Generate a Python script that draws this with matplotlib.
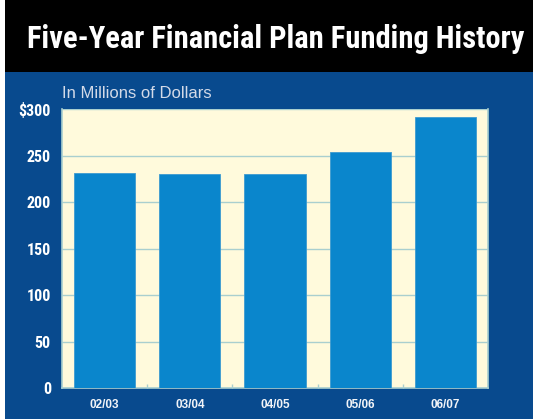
import matplotlib
matplotlib.use("Agg")
import matplotlib.pyplot as plt
from matplotlib import font_manager

# Funding per fiscal year, millions of dollars
years = ["02/03", "03/04", "04/05", "05/06", "06/07"]
funding = [231, 230, 230, 254, 291]
ytick_values = [0, 50, 100, 150, 200, 250, 300]
ytick_labels = ["0", "50", "100", "150", "200", "250", "$300"]

BG_BLUE = "#084A8E"
BAR_BLUE = "#0A86CC"
CREAM = "#FFFADC"
GRID = "#A9CFCF"

# Prefer a narrow bold face for the headline when one is installed
names = {f.name for f in font_manager.fontManager.ttflist}
narrow = [n for n in ("Liberation Sans Narrow", "DejaVu Sans Condensed", "Roboto Condensed") if n in names]
title_family = narrow + ["Roboto", "DejaVu Sans"]

W, H = 533, 419
fig = plt.figure(figsize=(W / 100, H / 100), dpi=100)
fig.patch.set_facecolor("white")

# Background panel: blue field with a black title band
bg = fig.add_axes([5 / W, 0, 1 - 5 / W, 1], zorder=0)
bg.set_xlim(0, 1)
bg.set_ylim(0, 1)
bg.axis("off")
bg.add_patch(plt.Rectangle((0, 0), 1, 1, facecolor=BG_BLUE, edgecolor="none"))
bg.add_patch(plt.Rectangle((0, 1 - 72 / H), 1, 72 / H, facecolor="black", edgecolor="none"))

fig.text(276 / W, 1 - 39 / H, "Five-Year Financial Plan Funding History",
         color="white", fontsize=22, fontweight="bold", ha="center", va="center",
         family=title_family, fontstretch="condensed", zorder=5)
fig.text(62 / W, 1 - 94 / H, "In Millions of Dollars", color="#D3DAE8",
         fontsize=12, ha="left", va="center", family=["Liberation Sans", "DejaVu Sans"], zorder=5)

left, right, top, bottom = 62, 488, 109, 388
ax = fig.add_axes([left / W, 1 - bottom / H, (right - left) / W, (bottom - top) / H], zorder=2)
ax.set_facecolor(CREAM)

x = list(range(len(years)))
ax.bar(x, funding, width=0.72, color=BAR_BLUE, edgecolor="#3D9AD0", linewidth=0.6, zorder=3)

ax.set_xlim(-0.5, len(years) - 0.5)
ax.set_ylim(0, 300)
ax.set_yticks(ytick_values)
ax.set_yticklabels(ytick_labels)
ax.set_xticks(x)
ax.set_xticklabels(years)
# small separators between categories along the base line
ax.set_xticks([i + 0.5 for i in x[:-1]], minor=True)
ax.yaxis.grid(True, color=GRID, linewidth=1.0, zorder=1)
ax.set_axisbelow(True)

for lab in ax.get_yticklabels():
    lab.set_fontweight("bold")
    lab.set_fontsize(11.5)
    lab.set_color("white")
    lab.set_family(title_family)
    lab.set_fontstretch("condensed")
for lab in ax.get_xticklabels():
    lab.set_fontweight("bold")
    lab.set_fontsize(8.5)
    lab.set_color("#F2F4F8")
    lab.set_family(["Liberation Sans", "DejaVu Sans"])
ax.tick_params(axis="y", length=0, pad=8)
ax.tick_params(axis="x", which="major", length=0, pad=8)
ax.tick_params(axis="x", which="minor", length=3, direction="in", color=GRID, width=1)

for side, sp in ax.spines.items():
    sp.set_color(GRID)
    sp.set_linewidth(1.2)
ax.spines["top"].set_visible(False)

fig.savefig("out.png", dpi=100, facecolor=fig.get_facecolor())
